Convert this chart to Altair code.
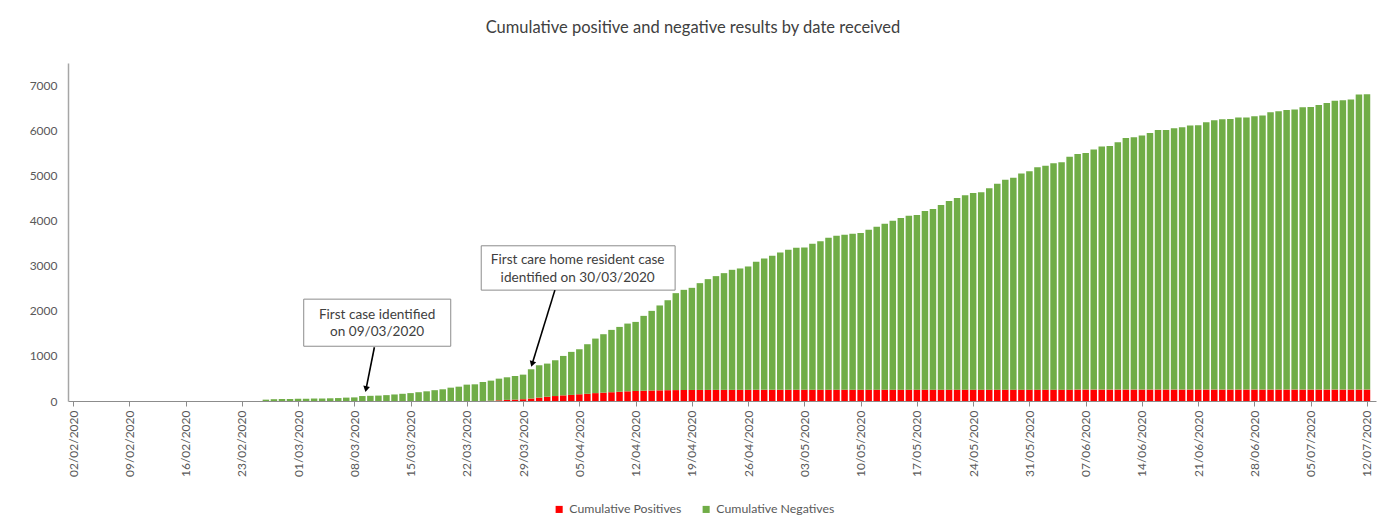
import altair as alt
import pandas as pd

# ---- data (cumulative totals = positives + negatives) ----
feb_total = [30, 40, 45, 45]  # 26/02 - 29/02
mar_total = [50, 50, 55, 55, 60, 65, 75, 80, 110, 115, 120, 130, 145, 160, 175, 195,
             215, 240, 260, 296, 318, 363, 370, 422, 452, 496, 526, 555, 585, 704, 793]
apr_total = [830, 904, 1000, 1090, 1148, 1260, 1385, 1482, 1578, 1644, 1718, 1755, 1889,
             2000, 2120, 2236, 2393, 2467, 2511, 2615, 2704, 2771, 2837, 2911, 2941, 2985,
             3089, 3163, 3222, 3296]
may_total = [3356, 3400, 3405, 3489, 3545, 3625, 3667, 3689, 3711, 3726, 3800, 3867, 3933,
             4000, 4060, 4111, 4126, 4215, 4260, 4348, 4437, 4504, 4563, 4615, 4630, 4719,
             4822, 4911, 4952, 5048, 5096]
jun_total = [5185, 5222, 5274, 5296, 5422, 5482, 5504, 5578, 5645, 5660, 5741, 5837, 5852,
             5889, 5948, 6015, 6015, 6052, 6074, 6115, 6120, 6185, 6230, 6252, 6255, 6289,
             6292, 6319, 6333, 6407]
jul_total = [6430, 6459, 6470, 6519, 6522, 6570, 6615, 6660, 6674, 6689, 6800, 6805]

feb_pos = [0, 0, 0, 0]
mar_pos = [0, 0, 0, 0, 0, 0, 0, 0, 0, 0, 0, 0, 0, 0, 0, 0, 0, 0, 0, 0, 0, 0, 0, 0,
           5, 15, 25, 30, 40, 55, 75]
apr_pos = [95, 110, 125, 135, 150, 160, 175, 185, 195, 205, 215, 222, 228, 233, 237, 240,
           242, 244, 245, 246, 246, 247, 247, 247, 248, 248, 248, 248, 249, 249]
may_pos = [249, 249, 250, 250, 250, 250, 250, 250, 250, 250, 251, 251, 251, 251, 251, 251,
           251, 251, 251, 251, 252, 252, 252, 252, 252, 252, 252, 252, 252, 252, 252]
jun_pos = [252, 252, 252, 252, 252, 253, 253, 253, 253, 253, 253, 253, 253, 253, 253, 253,
           253, 253, 253, 253, 253, 253, 253, 253, 253, 253, 253, 253, 253, 253]
jul_pos = [253, 253, 253, 253, 253, 253, 253, 253, 253, 253, 253, 253]

totals = feb_total + mar_total + apr_total + may_total + jun_total + jul_total
positives = feb_pos + mar_pos + apr_pos + may_pos + jun_pos + jul_pos
dates = [d.strftime("%Y-%m-%d") for d in pd.date_range("2020-02-26", "2020-07-12", freq="D")]

tick_dates = [d for d in pd.date_range("2020-02-02", "2020-07-12", freq="7D")]

series_names = ["Cumulative Positives", "Cumulative Negatives"]
series_colors = ["#FF0000", "#70AD47"]

rows = []
for d, t, p in zip(dates, totals, positives):
    rows.append({"date": d, "series": series_names[0], "value": p, "ord": 0})
    rows.append({"date": d, "series": series_names[1], "value": t - p, "ord": 1})
df = pd.DataFrame(rows)

# ---- annotations (in data coordinates) ----
box_x = ["2020-03-01T17:00:00Z", "2020-03-23T19:00:00Z"]
box_x2 = ["2020-03-20T00:00:00Z", "2020-04-16T22:00:00Z"]
box_y = [1215, 2460]
box_y2 = [2260, 3444]
boxes = pd.DataFrame({"x": box_x, "x2": box_x2, "y": box_y, "y2": box_y2})

label_x = ["2020-03-10T20:00:00Z", "2020-03-10T20:00:00Z", "2020-04-04T19:00:00Z", "2020-04-04T19:00:00Z"]
label_y = [1904, 1527, 3133, 2727]
label_text = ["First case identified", "on 09/03/2020",
              "First care home resident case", "identified on 30/03/2020"]
labels = pd.DataFrame({"x": label_x, "y": label_y, "t": label_text})

arrow_x = ["2020-03-10T12:00:00Z", "2020-04-01T23:00:00Z"]
arrow_y = [1193, 2460]
arrow_x2 = ["2020-03-09T11:00:00Z", "2020-03-30T03:00:00Z"]
arrow_y2 = [264, 819]
arrow_angle = [11, 17]
arrows = pd.DataFrame({"x": arrow_x, "y": arrow_y, "x2": arrow_x2, "y2": arrow_y2, "ang": arrow_angle})

FONT = "Lato"

xscale = alt.Scale(type="utc", domain=[alt.DateTime(year=2020, month=2, date=2, utc=True),
                                        alt.DateTime(year=2020, month=7, date=12, hours=12, utc=True)])
tick_vals = [alt.DateTime(year=d.year, month=d.month, date=d.day, utc=True) for d in tick_dates]
yscale = alt.Scale(domain=[0, 7500], nice=False)

bars = alt.Chart(df).mark_bar(size=6.5).encode(
    x=alt.X("date:T", scale=xscale, title=None,
            axis=alt.Axis(values=tick_vals, format="%d/%m/%Y", labelAngle=270,
                          labelFont=FONT, labelFontSize=12, labelColor="#595959",
                          labelPadding=4, tickSize=5, tickColor="#8c8c8c",
                          domainColor="#8c8c8c", grid=False, labelOverlap=False)),
    y=alt.Y("value:Q", stack="zero", scale=yscale, title=None,
            axis=alt.Axis(values=[0, 1000, 2000, 3000, 4000, 5000, 6000, 7000], format="d",
                          labelFont=FONT, labelFontSize=12, labelColor="#595959",
                          labelPadding=11, ticks=False, domainColor="#a6a6a6",
                          domainWidth=1.5, grid=False)),
    color=alt.Color("series:N",
                    scale=alt.Scale(domain=series_names, range=series_colors),
                    legend=alt.Legend(title=None, orient="none", direction="horizontal",
                                      legendX=485, legendY=440, symbolType="square",
                                      symbolSize=50, labelFont=FONT, labelFontSize=12.3,
                                      labelColor="#595959", columnPadding=18,
                                      symbolStrokeWidth=0)),
    order=alt.Order("ord:Q"),
)

box_layer = alt.Chart(boxes).mark_rect(fill="white", stroke="#8c8c8c", strokeWidth=1).encode(
    x="x:T", x2="x2:T", y="y:Q", y2="y2:Q")

text_layer = alt.Chart(labels).mark_text(font=FONT, fontSize=13.6, color="#404040",
                                         align="center", baseline="middle").encode(
    x="x:T", y="y:Q", text="t:N")

rule_layer = alt.Chart(arrows).mark_rule(color="black", strokeWidth=1.6).encode(
    x="x:T", x2="x2:T", y="y:Q", y2="y2:Q")

head_layer = alt.Chart(arrows).mark_point(shape="triangle-down", filled=True, size=45,
                                          color="black", opacity=1).encode(
    x="x2:T", y="y2:Q", angle=alt.Angle("ang:Q", scale=None))

chart = alt.layer(bars, box_layer, text_layer, rule_layer, head_layer).properties(
    width=1308, height=338,
    view=alt.ViewBackground(strokeWidth=0, strokeOpacity=0),
    title=alt.TitleParams("Cumulative positive and negative results by date received",
                          font=FONT, fontSize=16.5, fontWeight="normal", color="#404040",
                          anchor="middle", frame="group", dx=-29, offset=27),
    autosize=alt.AutoSizeParams(type="none"),
    padding={"left": 60, "top": 55, "right": 2, "bottom": 118},
).configure_view(stroke="transparent", strokeWidth=0, strokeOpacity=0).configure(background="white")

chart.save("out.html", embed_options={"renderer": "svg", "actions": False})
